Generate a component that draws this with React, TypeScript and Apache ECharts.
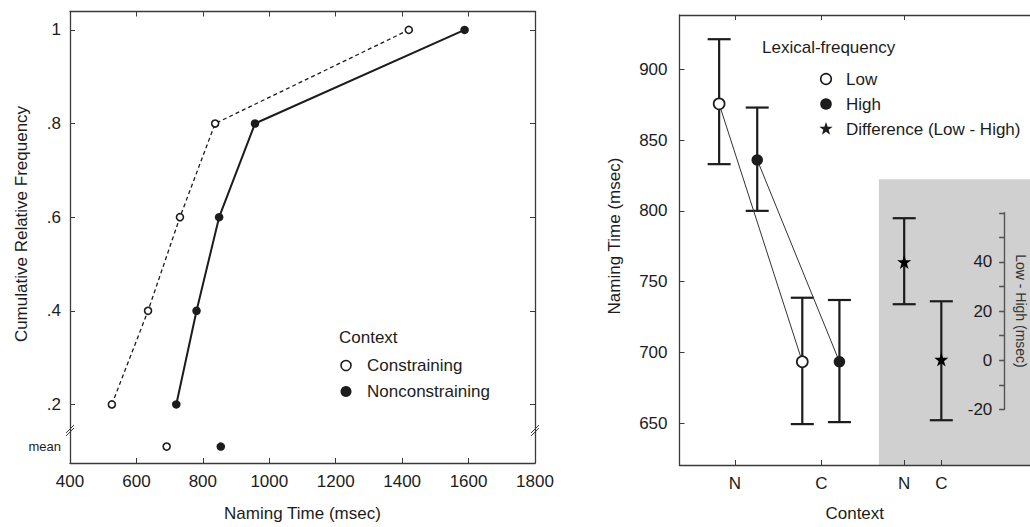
import React, { useEffect, useRef } from "react";
import * as echarts from "echarts";

// ---------- Left panel data ----------
const CUM_FREQ = [0.2, 0.4, 0.6, 0.8, 1.0];
const CONSTRAINING_RT = [526, 635, 731, 837, 1420];
const NONCONSTRAINING_RT = [720, 781, 849, 957, 1588];
const MEAN_CONSTRAINING_RT = [691];
const MEAN_NONCONSTRAINING_RT = [854];
const MEAN_ROW = 0.11;
const LEFT_X_TICKS = [400, 600, 800, 1000, 1200, 1400, 1600, 1800];
const LEFT_Y_TICKS = [0.2, 0.4, 0.6, 0.8, 1.0];

// ---------- Right panel data ----------
const CONTEXT_LABELS = ["N", "C", "N", "C"];
const CONTEXT_TICKS = [1, 2, 2.96, 3.39];
const LOW_X = [0.817, 1.78];
const HIGH_X = [1.258, 2.21];
const LOW_MEAN = [875.6, 693.4];
const LOW_UPPER = [921.3, 738.6];
const LOW_LOWER = [833, 649.3];
const HIGH_MEAN = [836, 693.4];
const HIGH_UPPER = [873, 737];
const HIGH_LOWER = [800, 650.7];
const DIFF_X = [2.96, 3.39];
const DIFF_MEAN = [40, 0.3];
const DIFF_UPPER = [57.8, 24];
const DIFF_LOWER = [22.8, -24.4];
const RIGHT_Y_TICKS = [650, 700, 750, 800, 850, 900];
const DIFF_Y_LABELS = [-20, 0, 20, 40];
const DIFF_PANEL_START = [2.667, 822.3];

const FONT = '"Liberation Sans", Arial, Helvetica, sans-serif';
const INK = "#1c1c1c";
const AXIS = "#3a3a3a";
const STAR =
  "path://M50,0 L61.2,34.5 L97.6,34.5 L68.2,55.9 L79.4,90.5 L50,69.1 L20.6,90.5 L31.8,55.9 L2.4,34.5 L38.8,34.5 Z";

function starPoints(cx: number, cy: number, r: number) {
  const pts: number[][] = [];
  for (let i = 0; i < 10; i++) {
    const a = -Math.PI / 2 + (i * Math.PI) / 5;
    const rr = i % 2 === 0 ? r : r * 0.4;
    pts.push([cx + rr * Math.cos(a), cy + rr * Math.sin(a)]);
  }
  return pts;
}

function errorBarItem(params: any, api: any) {
  const x = api.value(0);
  const lo = api.value(1);
  const hi = api.value(2);
  const pLo = api.coord([x, lo]);
  const pHi = api.coord([x, hi]);
  const w = 11.5;
  const style = { stroke: INK, lineWidth: 2.2 };
  return {
    type: "group",
    children: [
      { type: "line", shape: { x1: pLo[0], y1: pLo[1], x2: pHi[0], y2: pHi[1] }, style },
      { type: "line", shape: { x1: pHi[0] - w, y1: pHi[1], x2: pHi[0] + w, y2: pHi[1] }, style },
      { type: "line", shape: { x1: pLo[0] - w, y1: pLo[1], x2: pLo[0] + w, y2: pLo[1] }, style },
    ],
  };
}

function grayPanelItem(params: any, api: any) {
  const p = api.coord([api.value(0), api.value(1)]);
  const cs = params.coordSys;
  return {
    type: "rect",
    shape: { x: p[0], y: p[1], width: cs.x + cs.width - p[0], height: cs.y + cs.height - p[1] },
    style: { fill: "#d0d0d0" },
  };
}

const axisLineStyle = { show: true, onZero: false, lineStyle: { color: AXIS, width: 1.3 } };
const tickLabelStyle = { color: INK, fontSize: 17, fontFamily: FONT };
const plain = (v: number) => String(v);

export default function App() {
  const ref = useRef<HTMLDivElement>(null);

  useEffect(() => {
    document.body.style.margin = "0";
    if (!ref.current) return;
    const chart = echarts.init(ref.current, null, { renderer: "svg" });

    const X_MIN = 0.358;
    const X_MAX = 4.417;

    const option: any = {
      animation: false,
      backgroundColor: "#ffffff",
      textStyle: { fontFamily: FONT },
      grid: [
        { left: 70, right: 495, top: 11.5, bottom: 61.3 },
        { left: 679.5, right: -5, top: 15, bottom: 60.8 },
        { left: 679.5, right: -5, top: 212.8, bottom: 117.6 },
      ],
      xAxis: [
        {
          type: "value",
          gridIndex: 0,
          position: "bottom",
          min: 400,
          max: 1800,
          axisLine: axisLineStyle,
          splitLine: { show: false },
          axisTick: { show: true, inside: true, length: 5, customValues: LEFT_X_TICKS, lineStyle: { color: AXIS } },
          axisLabel: { ...tickLabelStyle, margin: 10, customValues: LEFT_X_TICKS, formatter: plain },
          name: "Naming Time (msec)",
          nameLocation: "middle",
          nameGap: 42,
          nameTextStyle: { color: INK, fontSize: 17, fontFamily: FONT },
          z: 10,
        },
        {
          type: "value",
          gridIndex: 0,
          position: "top",
          min: 400,
          max: 1800,
          axisLine: axisLineStyle,
          splitLine: { show: false },
          axisTick: { show: true, inside: true, length: 5, customValues: LEFT_X_TICKS, lineStyle: { color: AXIS } },
          axisLabel: { show: false },
          z: 10,
        },
        {
          type: "value",
          gridIndex: 1,
          position: "bottom",
          min: X_MIN,
          max: X_MAX,
          axisLine: axisLineStyle,
          splitLine: { show: false },
          axisTick: { show: true, inside: true, length: 5, customValues: CONTEXT_TICKS, lineStyle: { color: AXIS } },
          axisLabel: {
            ...tickLabelStyle,
            margin: 10,
            customValues: CONTEXT_TICKS,
            formatter: (v: number) => {
              const i = CONTEXT_TICKS.findIndex((t) => Math.abs(t - v) < 1e-6);
              return i >= 0 ? CONTEXT_LABELS[i] : "";
            },
          },
          name: "Context",
          nameLocation: "middle",
          nameGap: 40,
          nameTextStyle: { color: INK, fontSize: 17, fontFamily: FONT },
          z: 10,
        },
        {
          type: "value",
          gridIndex: 1,
          position: "top",
          min: X_MIN,
          max: X_MAX,
          axisLine: axisLineStyle,
          splitLine: { show: false },
          axisTick: { show: true, inside: true, length: 5, customValues: CONTEXT_TICKS.slice(0, 3), lineStyle: { color: AXIS } },
          axisLabel: { show: false },
          z: 10,
        },
        {
          type: "value",
          gridIndex: 2,
          min: X_MIN,
          max: X_MAX,
          show: false,
        },
      ],
      yAxis: [
        {
          type: "value",
          gridIndex: 0,
          position: "left",
          min: 0.0749,
          max: 1.0393,
          axisLine: axisLineStyle,
          splitLine: { show: false },
          axisTick: { show: true, inside: true, length: 5, customValues: LEFT_Y_TICKS, lineStyle: { color: AXIS } },
          axisLabel: {
            ...tickLabelStyle,
            margin: 9,
            customValues: [MEAN_ROW, ...LEFT_Y_TICKS],
            formatter: (v: number) => {
              if (Math.abs(v - MEAN_ROW) < 1e-6) return "{m|mean}";
              if (Math.abs(v - 1) < 1e-6) return "1";
              return "." + Math.round(v * 10);
            },
            rich: { m: { fontSize: 13, color: INK, fontFamily: FONT } },
          },
          z: 10,
        },
        {
          type: "value",
          gridIndex: 0,
          position: "right",
          min: 0.0749,
          max: 1.0393,
          axisLine: axisLineStyle,
          splitLine: { show: false },
          axisTick: { show: true, inside: true, length: 5, customValues: LEFT_Y_TICKS, lineStyle: { color: AXIS } },
          axisLabel: { show: false },
          z: 10,
        },
        {
          type: "value",
          gridIndex: 1,
          position: "left",
          min: 620.4,
          max: 938.4,
          axisLine: axisLineStyle,
          splitLine: { show: false },
          axisTick: { show: true, inside: true, length: 5, customValues: RIGHT_Y_TICKS, lineStyle: { color: AXIS } },
          axisLabel: { ...tickLabelStyle, margin: 12, customValues: RIGHT_Y_TICKS, formatter: plain },
          z: 10,
        },
        {
          type: "value",
          gridIndex: 2,
          position: "left",
          offset: -324.8,
          min: -20,
          max: 60,
          interval: 10,
          axisLine: { show: true, onZero: false, lineStyle: { color: "#555", width: 1.4 } },
          splitLine: { show: false },
          axisTick: { show: true, inside: false, length: 5, lineStyle: { color: "#555", width: 1.3 } },
          axisLabel: {
            ...tickLabelStyle,
            margin: 12,
            formatter: (v: number) => (DIFF_Y_LABELS.indexOf(Math.round(v)) >= 0 ? String(Math.round(v)) : ""),
          },
          z: 10,
        },
        {
          type: "value",
          gridIndex: 2,
          position: "right",
          offset: -30.7,
          min: -20,
          max: 60,
          interval: 10,
          axisLine: { show: false },
          splitLine: { show: false },
          axisTick: { show: true, inside: false, length: 5, lineStyle: { color: "#555", width: 1.3 } },
          axisLabel: { show: false },
          z: 10,
        },
      ],
      series: [
        // ---- left panel ----
        {
          name: "Constraining",
          type: "line",
          xAxisIndex: 0,
          yAxisIndex: 0,
          data: CONSTRAINING_RT.map((x, i) => [x, CUM_FREQ[i]]),
          lineStyle: { color: INK, width: 1.3, type: [4, 3] },
          symbol: "circle",
          symbolSize: 7,
          itemStyle: { color: "#ffffff", borderColor: INK, borderWidth: 1.6, opacity: 1 },
          z: 4,
        },
        {
          name: "Nonconstraining",
          type: "line",
          xAxisIndex: 0,
          yAxisIndex: 0,
          data: NONCONSTRAINING_RT.map((x, i) => [x, CUM_FREQ[i]]),
          lineStyle: { color: INK, width: 2 },
          symbol: "circle",
          symbolSize: 8.5,
          itemStyle: { color: INK, borderColor: INK, borderWidth: 0, opacity: 1 },
          z: 4,
        },
        {
          name: "Constraining mean",
          type: "scatter",
          xAxisIndex: 0,
          yAxisIndex: 0,
          data: MEAN_CONSTRAINING_RT.map((x) => [x, MEAN_ROW]),
          symbol: "circle",
          symbolSize: 7,
          itemStyle: { color: "#ffffff", borderColor: INK, borderWidth: 1.6, opacity: 1 },
          z: 4,
        },
        {
          name: "Nonconstraining mean",
          type: "scatter",
          xAxisIndex: 0,
          yAxisIndex: 0,
          data: MEAN_NONCONSTRAINING_RT.map((x) => [x, MEAN_ROW]),
          symbol: "circle",
          symbolSize: 8.5,
          itemStyle: { color: INK, opacity: 1 },
          z: 4,
        },
        // ---- right panel ----
        {
          name: "Difference panel",
          type: "custom",
          xAxisIndex: 2,
          yAxisIndex: 2,
          data: [DIFF_PANEL_START],
          renderItem: grayPanelItem,
          silent: true,
          z: 1,
        },
        {
          name: "Low error",
          type: "custom",
          xAxisIndex: 2,
          yAxisIndex: 2,
          data: LOW_X.map((x, i) => [x, LOW_LOWER[i], LOW_UPPER[i]]),
          renderItem: errorBarItem,
          encode: { x: 0, y: [1, 2] },
          z: 2,
        },
        {
          name: "High error",
          type: "custom",
          xAxisIndex: 2,
          yAxisIndex: 2,
          data: HIGH_X.map((x, i) => [x, HIGH_LOWER[i], HIGH_UPPER[i]]),
          renderItem: errorBarItem,
          encode: { x: 0, y: [1, 2] },
          z: 2,
        },
        {
          name: "Low",
          type: "line",
          xAxisIndex: 2,
          yAxisIndex: 2,
          data: LOW_X.map((x, i) => [x, LOW_MEAN[i]]),
          lineStyle: { color: "#333", width: 1 },
          symbol: "circle",
          symbolSize: 11,
          itemStyle: { color: "#ffffff", borderColor: INK, borderWidth: 1.7, opacity: 1 },
          z: 4,
        },
        {
          name: "High",
          type: "line",
          xAxisIndex: 2,
          yAxisIndex: 2,
          data: HIGH_X.map((x, i) => [x, HIGH_MEAN[i]]),
          lineStyle: { color: "#333", width: 1 },
          symbol: "circle",
          symbolSize: 11.5,
          itemStyle: { color: INK, opacity: 1 },
          z: 4,
        },
        {
          name: "Difference error",
          type: "custom",
          xAxisIndex: 4,
          yAxisIndex: 3,
          data: DIFF_X.map((x, i) => [x, DIFF_LOWER[i], DIFF_UPPER[i]]),
          renderItem: errorBarItem,
          encode: { x: 0, y: [1, 2] },
          clip: false,
          z: 3,
        },
        {
          name: "Difference (Low - High)",
          type: "scatter",
          xAxisIndex: 4,
          yAxisIndex: 3,
          data: DIFF_X.map((x, i) => [x, DIFF_MEAN[i]]),
          symbol: STAR,
          symbolSize: 14,
          itemStyle: { color: "#000", opacity: 1 },
          clip: false,
          z: 4,
        },
      ],
      graphic: [
        // axis break marks
        ...[70, 535].flatMap((bx) => [
          { type: "line", shape: { x1: bx - 4, y1: 433, x2: bx + 4, y2: 425 }, style: { stroke: AXIS, lineWidth: 1 }, z: 20 },
          { type: "line", shape: { x1: bx - 4, y1: 436, x2: bx + 4, y2: 428 }, style: { stroke: AXIS, lineWidth: 1 }, z: 20 },
        ]),
        // left axis name
        {
          type: "text",
          x: 21,
          y: 224,
          rotation: Math.PI / 2,
          style: { text: "Cumulative Relative Frequency", fill: INK, font: `17px ${FONT}`, align: "center", verticalAlign: "middle" },
        },
        // right axis name
        {
          type: "text",
          x: 614,
          y: 236,
          rotation: Math.PI / 2,
          style: { text: "Naming Time (msec)", fill: INK, font: `17px ${FONT}`, align: "center", verticalAlign: "middle" },
        },
        // inner axis name
        {
          type: "text",
          x: 1021,
          y: 311,
          rotation: -Math.PI / 2,
          style: { text: "Low - High (msec)", fill: "#333", font: `14px ${FONT}`, align: "center", verticalAlign: "middle" },
          z: 20,
        },
        // left legend
        { type: "text", x: 339, y: 337, style: { text: "Context", fill: INK, font: `17px ${FONT}`, align: "left", verticalAlign: "middle" } },
        { type: "circle", shape: { cx: 346, cy: 365.5, r: 5 }, style: { fill: "#fff", stroke: INK, lineWidth: 1.6 } },
        { type: "text", x: 367, y: 365.5, style: { text: "Constraining", fill: INK, font: `17px ${FONT}`, align: "left", verticalAlign: "middle" } },
        { type: "circle", shape: { cx: 346, cy: 391.5, r: 5.5 }, style: { fill: INK } },
        { type: "text", x: 367, y: 391.5, style: { text: "Nonconstraining", fill: INK, font: `17px ${FONT}`, align: "left", verticalAlign: "middle" } },
        // right legend
        { type: "text", x: 762, y: 47, style: { text: "Lexical-frequency", fill: INK, font: `17px ${FONT}`, align: "left", verticalAlign: "middle" } },
        { type: "circle", shape: { cx: 826, cy: 79, r: 5.3 }, style: { fill: "#fff", stroke: INK, lineWidth: 1.6 } },
        { type: "text", x: 846, y: 79, style: { text: "Low", fill: INK, font: `17px ${FONT}`, align: "left", verticalAlign: "middle" } },
        { type: "circle", shape: { cx: 826, cy: 104, r: 5.8 }, style: { fill: INK } },
        { type: "text", x: 846, y: 104, style: { text: "High", fill: INK, font: `17px ${FONT}`, align: "left", verticalAlign: "middle" } },
        { type: "polygon", shape: { points: starPoints(826, 129, 7) }, style: { fill: INK } },
        { type: "text", x: 846, y: 129, style: { text: "Difference (Low - High)", fill: INK, font: `17px ${FONT}`, align: "left", verticalAlign: "middle" } },
      ],
    };

    chart.setOption(option);
    return () => chart.dispose();
  }, []);

  return <div ref={ref} style={{ width: 1030, height: 527 }} />;
}
